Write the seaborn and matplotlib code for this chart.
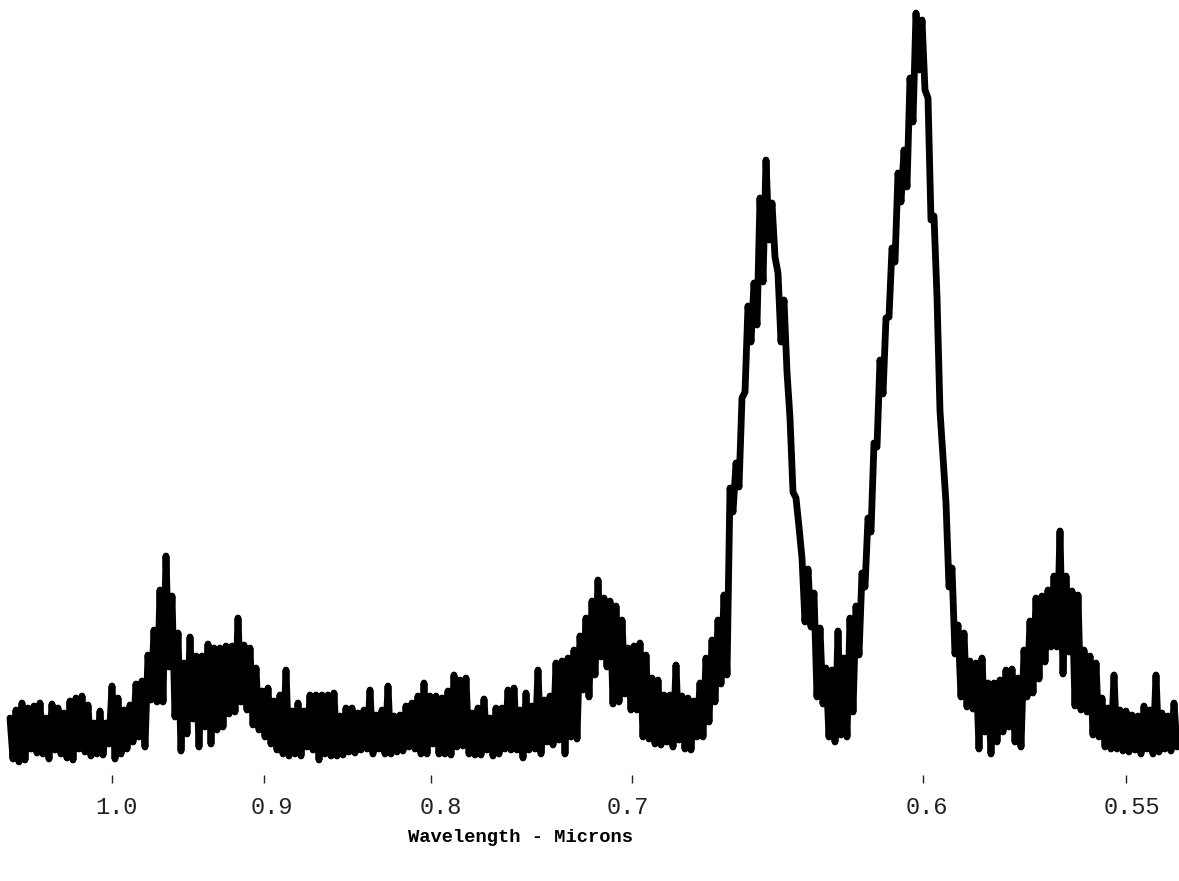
import numpy as np
import pandas as pd
import seaborn as sns
from matplotlib import pyplot as plt
from matplotlib.transforms import ScaledTranslation

# trace, upper and lower swing of the noise per scan step
upper_ir = [52,60,67,62,64,67,52,66,62,57,69,72,74,65,47,59,47,84,72,60,
            65,86,89,115,140,180,214,174,137,107,133,114,114,126,122,122,124,124,152,125,
            122,102,79,82,69,75,100,59,67,59,75,75,75,75,77,54,62,62,57,60,
            80,55,60,84,54]
lower_ir = [11,8,10,21,17,16,11,20,16,12,10,21,18,14,16,15,26,11,16,21,
            28,33,23,70,68,68,103,53,19,36,51,23,43,26,40,43,56,58,68,60,
            45,40,33,26,20,16,14,16,14,23,20,10,16,14,14,15,18,17,20,21,
            16,21,16,16,18]
upper_mid = [55,64,67,74,87,74,74,72,79,95,90,92,57,62,71,52,62,62,80,82,
             60,77,64,100,70,74,107,109,112,120,134,152,169,190,172,169,164,150,122,124,
             127,115,92,90,75,75,105,74,72,69,87,112,130,150,175]
lower_mid = [19,23,21,16,16,26,16,16,15,23,24,16,15,15,20,14,16,21,20,20,
             12,20,21,16,28,25,30,16,33,31,80,73,95,113,103,66,68,76,60,60,
             33,31,26,25,28,23,30,21,20,33,33,48,68,86,95]
upper_vis = [282,307,372,464,487,572,610,567,497,470,352,272,212,201,177,142,102,100,139,112,
             152,164,197,252,327,410,452,522,597,620,692,757,750,672,554,359,267,202,145,137,
             109,107,112,87,87,90,100,101,92,120,149,172,174,180,194,239,194,179,175,120,
             114,107,72,62,95,60,59,55,54,64,60,95,57,54,67]
lower_vis = [258,283,378,428,445,488,530,513,428,398,278,243,148,143,73,66,33,28,35,33,
             58,115,183,238,323,376,453,508,568,583,648,700,680,550,473,313,183,116,73,63,
             61,21,38,16,28,38,43,28,23,73,77,91,108,123,123,96,118,64,60,58,
             35,33,23,21,21,19,18,20,16,21,16,18,21,19,23]

# where the wavelengths sit along the scan
tick_steps = [17.0, 42.33, 70.17, 103.67, 152.17, 186.0]
tick_labels = ["1.0", "0.9", "0.8", "0.7", "0.6", "0.55"]
label_shift = [4, 8, 10, -4, 4, 6]

upper = pd.Series(upper_ir + upper_mid + upper_vis)
lower = pd.Series(lower_ir + lower_mid + lower_vis)
steps = np.arange(len(upper))

df = pd.DataFrame({
    "scan": np.column_stack([steps, steps + 0.5]).ravel(),
    "signal": np.column_stack([upper, lower]).ravel(),
})

sns.set_style("white")
plt.rcParams['font.family'] = ['Liberation Mono', 'DejaVu Sans Mono']

fig = plt.figure(figsize=(11.79, 8.81), dpi=100)
ax = fig.add_axes([0, (881 - 775) / 881, 1, 775 / 881])
sns.lineplot(data=df, x="scan", y="signal", sort=False, estimator=None, color="black",
             linewidth=4.9, ax=ax, solid_joinstyle="round", solid_capstyle="round")

# the pen swings so fast the band between the swings prints solid
core_top = upper.rolling(3, center=True, min_periods=1).min()
core_bottom = lower.rolling(3, center=True, min_periods=1).max()
ax.fill_between(steps + 0.25, core_bottom, core_top, where=core_top > core_bottom,
                color="black", linewidth=0)

ax.set_xlim(-10 / 6, 1169 / 6)
ax.set_ylim(-5, 770)
ax.set_yticks([])
ax.set_ylabel("")
ax.set_xticks(tick_steps)
ax.set_xticklabels(tick_labels, fontsize=17, color="#222222")
ax.tick_params(axis="x", bottom=True, length=6, width=1.0, color="#222222", pad=9)
for lab, dx in zip(ax.get_xticklabels(), label_shift):
    lab.set_transform(lab.get_transform() + ScaledTranslation(dx / 100, 0, fig.dpi_scale_trans))

ax.set_xlabel("Wavelength - Microns", fontsize=13.5, color="black", fontweight="bold")
ax.xaxis.set_label_coords(521 / 1179, -54 / 775)
sns.despine(ax=ax, left=True, bottom=True)

plt.savefig("out.png", dpi=100)
